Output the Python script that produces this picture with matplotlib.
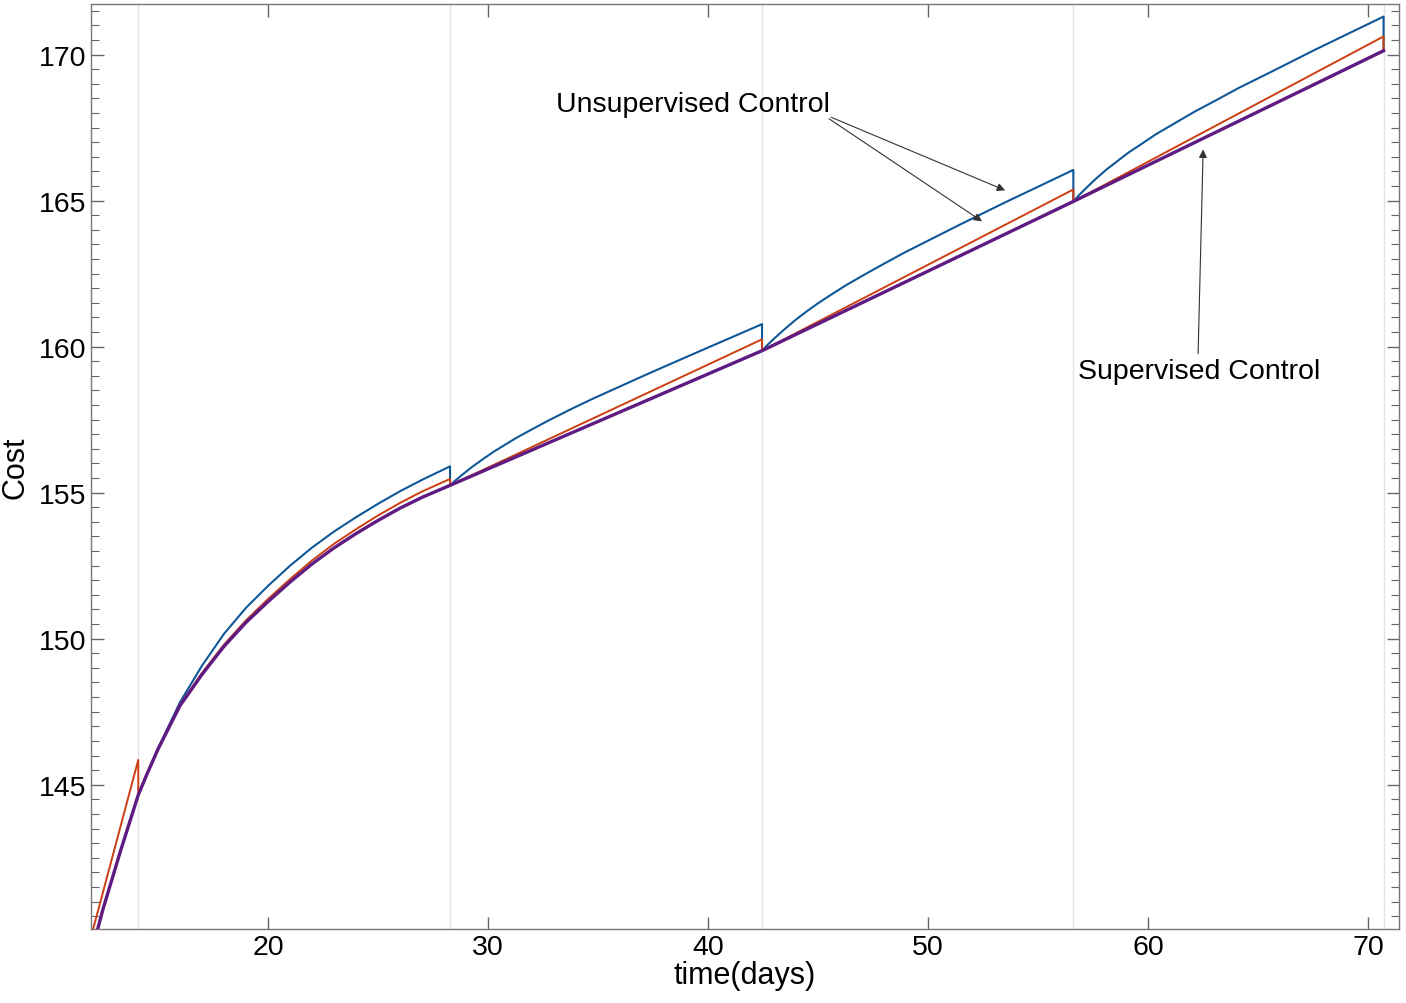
import matplotlib
matplotlib.use("Agg")
import matplotlib.pyplot as plt
from matplotlib.ticker import MultipleLocator

plt.rcParams['font.family'] = ['Liberation Sans', 'DejaVu Sans']

# jump times (control updates)
jump_days = [14.1, 28.27, 42.45, 56.6, 70.7]

# supervised control (purple)
sup_t = [12.2, 12.5, 12.86, 13.3, 13.7, 14.1, 14.5, 15.0, 16.0, 17.0, 18.0, 19.0, 20.0,
         21.0, 22.0, 23.0, 24.0, 25.0, 26.0, 27.0, 28.27, 42.45, 56.6, 70.7]
sup_cost = [139.9, 140.75, 141.65, 142.75, 143.7, 144.65, 145.37, 146.22, 147.71, 148.78,
            149.74, 150.56, 151.27, 151.94, 152.56, 153.11, 153.6, 154.05, 154.47, 154.84,
            155.25, 159.86, 164.97, 170.13]

# unsupervised control, first variant (orange/red)
red_t = [12.0, 14.1, 14.1, 14.5, 15.0, 16.0, 17.0, 18.0, 19.0, 20.0, 21.0, 22.0, 23.0,
         24.0, 25.0, 26.0, 27.0, 28.27, 28.27, 42.45, 42.45, 56.6, 56.6, 70.7, 70.7]
red_cost = [139.92, 145.85, 144.65, 145.39, 146.24, 147.74, 148.83, 149.8, 150.63, 151.36,
            152.04, 152.68, 153.25, 153.75, 154.22, 154.65, 155.04, 155.47, 155.25,
            160.25, 159.86, 165.38, 164.97, 170.62, 170.13]

# unsupervised control, second variant (blue)
blue_t = [12.2, 12.5, 12.86, 13.3, 13.7, 14.1, 14.5, 15.0, 16.0, 17.0, 18.0, 19.0, 20.0,
          21.0, 22.0, 23.0, 24.0, 25.0, 26.0, 27.0, 28.27,
          28.27, 28.52, 28.77, 29.27, 29.77, 30.27, 30.77, 31.27, 32.02, 32.77, 33.77,
          34.77, 35.77, 37.27, 39.27, 42.45,
          42.45, 42.7, 42.95, 43.45, 43.95, 44.45, 44.95, 45.45, 46.2, 46.95, 47.95,
          48.95, 49.95, 51.45, 53.45, 56.6,
          56.6, 56.85, 57.1, 57.6, 58.1, 58.6, 59.1, 59.6, 60.35, 61.1, 62.1,
          63.1, 64.1, 65.6, 67.6, 70.7, 70.7]
blue_cost = [139.9, 140.75, 141.65, 142.75, 143.7, 144.65, 145.38, 146.25, 147.83, 149.08,
             150.17, 151.06, 151.81, 152.5, 153.12, 153.67, 154.16, 154.62, 155.05, 155.44,
             155.9,
             155.25, 155.42, 155.58, 155.88, 156.15, 156.41, 156.64, 156.87, 157.18, 157.48,
             157.86, 158.22, 158.56, 159.07, 159.73, 160.77,
             159.86, 160.06, 160.24, 160.58, 160.9, 161.19, 161.46, 161.71, 162.07, 162.4,
             162.82, 163.23, 163.61, 164.18, 164.92, 166.05,
             164.97, 165.18, 165.37, 165.73, 166.06, 166.35, 166.64, 166.89, 167.27, 167.6,
             168.04, 168.44, 168.85, 169.41, 170.17, 171.3, 170.13]

fig = plt.figure(figsize=(14.06, 10.04), dpi=100)
ax = fig.add_axes([0.0647, 0.0737, 0.9303, 0.9213])

for d in jump_days:
    ax.axvline(d, color='#e2e2e2', lw=1.0, zorder=0)

ax.plot(blue_t, blue_cost, color='#0f5796', lw=1.5, zorder=2)
ax.plot(red_t, red_cost, color='#cc3f12', lw=1.4, zorder=3)
ax.plot(sup_t, sup_cost, color='#5f1b82', lw=2.4, zorder=4)

ax.set_xlim(11.95, 71.4)
ax.set_ylim(140.06, 171.73)
ax.set_xticks([20, 30, 40, 50, 60, 70])
ax.set_yticks([145, 150, 155, 160, 165, 170])
ax.yaxis.set_minor_locator(MultipleLocator(0.5))
ax.tick_params(which='both', direction='in', top=True, right=True, color='#666666',
               labelsize=20.5)
ax.tick_params(which='major', length=9, width=1.0)
ax.tick_params(which='minor', length=6, width=0.8)
for s in ax.spines.values():
    s.set_color('#777777')
    s.set_linewidth(1.0)

ax.set_xlabel('time(days)', fontsize=22, labelpad=0)
ax.set_ylabel('Cost', fontsize=22, labelpad=6)

arrow = dict(arrowstyle='-|>', color='#333333', lw=0.8, mutation_scale=12, shrinkA=0, shrinkB=0)
ax.text(33.07, 168.3, 'Unsupervised Control', fontsize=20.5, ha='left', va='center')
ax.annotate('', xy=(53.5, 165.35), xytext=(45.6, 167.85), arrowprops=arrow)
ax.annotate('', xy=(52.45, 164.29), xytext=(45.5, 167.8), arrowprops=arrow)
ax.text(56.8, 159.15, 'Supervised Control', fontsize=20.5, ha='left', va='center')
ax.annotate('', xy=(62.5, 166.75), xytext=(62.27, 159.75), arrowprops=arrow)

fig.savefig('out.png', dpi=100)
